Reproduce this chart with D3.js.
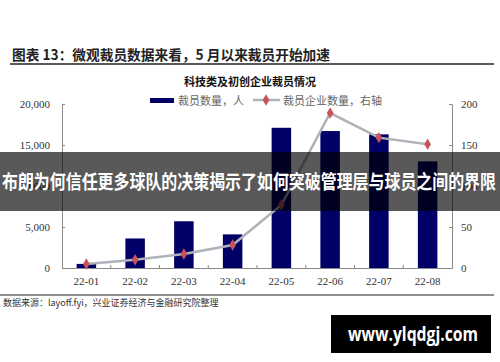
<!DOCTYPE html>
<html>
<head>
<meta charset="utf-8">
<script src="https://cdn.jsdelivr.net/npm/d3@7"></script>
<style>
  body { margin: 0; background: #fff; }
  svg { display: block; }
</style>
</head>
<body>
<div id="chart"></div>
<script>
// data
var months = ['22-01', '22-02', '22-03', '22-04', '22-05', '22-06', '22-07', '22-08'];
var layoffs = [500, 3600, 5700, 4100, 17100, 16700, 16300, 13000];
var companies = [5, 10, 17, 28, 77, 189, 159, 151];
var leftTicks = [0, 5000, 10000, 15000, 20000];
var rightTicks = [0, 50, 100, 150, 200];

var W = 500, H = 362;
var plotL = 62, plotR = 452, plotT = 104, plotB = 268;
var cjk = '"Noto Sans CJK SC", sans-serif';
var serif = '"Liberation Serif", "Times New Roman", serif';

var svg = d3.select('#chart').append('svg')
   .attr('width', W)
   .attr('height', H);

// header
svg.append('text')
   .attr('x', 12).attr('y', 60)
   .attr('font-family', cjk).attr('font-weight', 'bold')
   .attr('font-size', 14).attr('fill', '#222')
   .attr('textLength', 318).attr('lengthAdjust', 'spacingAndGlyphs')
   .text('图表 13：微观裁员数据来看，5 月以来裁员开始加速');
svg.append('line')
   .attr('x1', 10).attr('x2', 494).attr('y1', 64).attr('y2', 64)
   .attr('stroke', '#222').attr('stroke-width', 1.5);

svg.append('text')
   .attr('x', 250).attr('y', 86).attr('text-anchor', 'middle')
   .attr('font-family', cjk).attr('font-weight', 'bold')
   .attr('font-size', 11).attr('fill', '#111')
   .text('科技类及初创企业裁员情况');

var x = d3.scaleBand()
   .domain(months)
   .range([plotL, plotR])
   .paddingInner(0.6)
   .paddingOuter(0.3);

var yL = d3.scaleLinear().domain([0, 20000]).range([plotB, plotT]);
var yR = d3.scaleLinear().domain([0, 200]).range([plotB, plotT]);

// bars
svg.append('g').selectAll('rect')
   .data(layoffs)
   .enter()
   .append('rect')
   .attr('x', function (d, i) { return x(months[i]); })
   .attr('y', function (d) { return yL(d); })
   .attr('width', x.bandwidth())
   .attr('height', function (d) { return plotB - yL(d); })
   .attr('fill', '#000066');

// axes
var axL = svg.append('g')
   .attr('transform', 'translate(' + plotL + ',0)')
   .call(d3.axisRight(yL).tickValues(leftTicks).tickSize(3).tickFormat(''));
leftTicks.forEach(function (t) {
   svg.append('text')
      .attr('x', 50).attr('y', yL(t) + 4)
      .attr('text-anchor', 'end')
      .attr('font-family', serif).attr('font-size', 11).attr('fill', '#333')
      .text(d3.format(',')(t));
});

var axR = svg.append('g')
   .attr('transform', 'translate(' + plotR + ',0)')
   .call(d3.axisLeft(yR).tickValues(rightTicks).tickSize(3).tickFormat(''));
rightTicks.forEach(function (t) {
   svg.append('text')
      .attr('x', 461).attr('y', yR(t) + 4)
      .attr('font-family', serif).attr('font-size', 11).attr('fill', '#333')
      .text(t);
});

var axB = svg.append('g')
   .attr('transform', 'translate(0,' + plotB + ')')
   .call(d3.axisBottom(x).tickSize(0).tickPadding(9));
axB.selectAll('text')
   .attr('font-family', serif).attr('font-size', 11).attr('fill', '#333');
// small inward ticks between the months
var step = x.step();
axB.selectAll('line.sep')
   .data(months.slice(1))
   .enter()
   .append('line')
   .attr('class', 'sep')
   .attr('x1', function (d) { return x(d) - x.paddingInner() * step / 2; })
   .attr('x2', function (d) { return x(d) - x.paddingInner() * step / 2; })
   .attr('y1', 0).attr('y2', -3);

[axL, axR, axB].forEach(function (a) {
   a.selectAll('path, line').attr('stroke', '#8a8a8a');
});

// line on right axis
var cx = function (i) { return x(months[i]) + x.bandwidth() / 2; };
var line = d3.line()
   .x(function (d, i) { return cx(i); })
   .y(function (d) { return yR(d); });

svg.append('path')
   .datum(companies)
   .attr('d', line)
   .attr('fill', 'none')
   .attr('stroke', '#b0b2ba')
   .attr('stroke-width', 2.5);

var diamond = d3.symbol().type(d3.symbolDiamond).size(38);
svg.append('g').selectAll('path')
   .data(companies)
   .enter()
   .append('path')
   .attr('d', diamond)
   .attr('transform', function (d, i) { return 'translate(' + cx(i) + ',' + yR(d) + ')'; })
   .attr('fill', '#c8545a');

// legend
svg.append('rect')
   .attr('x', 150).attr('y', 98).attr('width', 24).attr('height', 5)
   .attr('fill', '#000066');
svg.append('text')
   .attr('x', 178).attr('y', 105)
   .attr('font-family', cjk).attr('font-size', 11).attr('fill', '#666')
   .text('裁员数量，人');
svg.append('line')
   .attr('x1', 253).attr('x2', 280).attr('y1', 100).attr('y2', 100)
   .attr('stroke', '#b0b2ba').attr('stroke-width', 2.5);
svg.append('path')
   .attr('d', diamond)
   .attr('transform', 'translate(266,100)')
   .attr('fill', '#c8545a');
svg.append('text')
   .attr('x', 283).attr('y', 105)
   .attr('font-family', cjk).attr('font-size', 11).attr('fill', '#666')
   .text('裁员企业数量，右轴');

// footer
svg.append('line')
   .attr('x1', 0).attr('x2', 494).attr('y1', 295).attr('y2', 295)
   .attr('stroke', '#222').attr('stroke-width', 1.2);
svg.append('text')
   .attr('x', 3).attr('y', 306)
   .attr('font-family', cjk).attr('font-size', 9).attr('fill', '#333')
   .text('数据来源：layoff.fyi，兴业证券经济与金融研究院整理');

// banner over the chart
svg.append('rect')
   .attr('x', 0).attr('y', 152).attr('width', W).attr('height', 59)
   .attr('fill', 'rgba(0,0,0,0.65)');
svg.append('text')
   .attr('x', 2).attr('y', 189)
   .attr('font-family', cjk).attr('font-weight', 'bold')
   .attr('font-size', 19).attr('fill', '#fff')
   .attr('textLength', 494).attr('lengthAdjust', 'spacingAndGlyphs')
   .text('布朗为何信任更多球队的决策揭示了如何突破管理层与球员之间的界限');

// watermark
svg.append('rect')
   .attr('x', 331).attr('y', 315).attr('width', 160).attr('height', 38)
   .attr('fill', '#000');
svg.append('text')
   .attr('x', 413).attr('y', 341).attr('text-anchor', 'middle')
   .attr('font-family', '"Open Sans", sans-serif').attr('font-weight', 'bold')
   .attr('font-size', 19).attr('fill', '#fff')
   .attr('textLength', 130).attr('lengthAdjust', 'spacingAndGlyphs')
   .text('www.ylqdgj.com');
</script>
</body>
</html>
